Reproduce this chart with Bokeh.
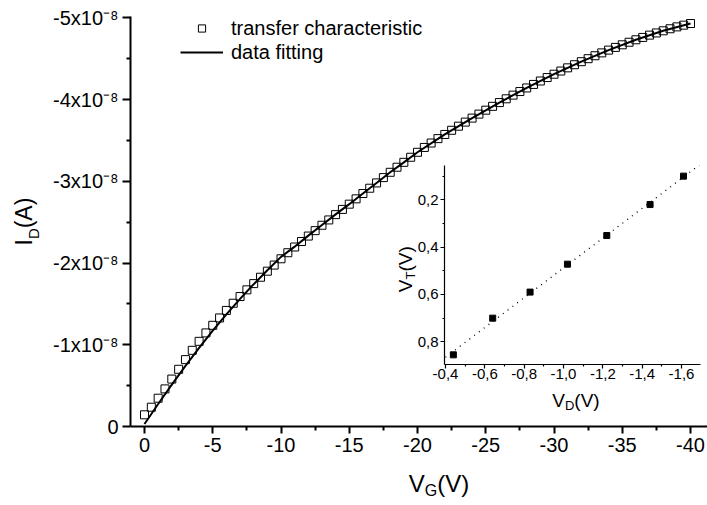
import numpy as np
from bokeh.plotting import figure
from bokeh.models import (Range1d, FixedTicker, CustomJSTickFormatter, Label,
                          Legend, LegendItem)
from bokeh.embed import file_html
from bokeh.resources import INLINE

FONT = "Liberation Sans"

# ---------------- data ----------------
# gate voltage (V) of the measured transfer characteristic
vg_meas = [0, -0.5, -1, -1.5, -2, -2.5, -3, -3.5, -4, -4.5, -5, -5.5, -6, -6.5, -7, -7.5,
           -8, -8.5, -9, -9.5, -10, -10.5, -11, -11.5, -12, -12.5, -13, -13.5, -14, -14.5,
           -15, -15.5, -16, -16.5, -17, -17.5, -18, -18.5, -19, -19.5, -20, -20.5, -21,
           -21.5, -22, -22.5, -23, -23.5, -24, -24.5, -25, -25.5, -26, -26.5, -27, -27.5,
           -28, -28.5, -29, -29.5, -30, -30.5, -31, -31.5, -32, -32.5, -33, -33.5, -34,
           -34.5, -35, -35.5, -36, -36.5, -37, -37.5, -38, -38.5, -39, -39.5, -40]
# drain current in units of 1e-8 A
id_meas_e8 = [-0.143, -0.236, -0.346, -0.460, -0.580, -0.700, -0.818, -0.932, -1.042,
              -1.145, -1.238, -1.328, -1.420, -1.508, -1.590, -1.672, -1.748, -1.826,
              -1.900, -1.975, -2.052, -2.126, -2.196, -2.263, -2.330, -2.396, -2.462,
              -2.527, -2.592, -2.656, -2.720, -2.785, -2.850, -2.915, -2.980, -3.045,
              -3.110, -3.172, -3.232, -3.294, -3.355, -3.414, -3.468, -3.522, -3.573,
              -3.624, -3.674, -3.724, -3.773, -3.822, -3.870, -3.917, -3.963, -4.009,
              -4.054, -4.098, -4.142, -4.185, -4.227, -4.269, -4.310, -4.349, -4.388,
              -4.426, -4.463, -4.500, -4.536, -4.571, -4.605, -4.638, -4.670, -4.701,
              -4.731, -4.760, -4.788, -4.815, -4.841, -4.866, -4.889, -4.910, -4.930]

# fitted curve
vg_fit = [0, -1, -2, -3, -4, -5, -6, -7, -8, -9, -10, -11, -12, -13, -14, -15, -16, -17,
          -18, -19, -20, -22, -24, -26, -28, -30, -32, -34, -36, -38, -40]
id_fit_e8 = [-0.03, -0.275, -0.512, -0.741, -0.962, -1.174, -1.372, -1.561, -1.741,
             -1.912, -2.075, -2.200, -2.335, -2.465, -2.595, -2.720, -2.850, -2.980,
             -3.110, -3.232, -3.355, -3.573, -3.773, -3.963, -4.142, -4.310, -4.463,
             -4.605, -4.731, -4.841, -4.930]

# inset: threshold voltage vs drain voltage
vd_inset = [-0.44, -0.64, -0.83, -1.02, -1.22, -1.44, -1.61]
vt_inset = [0.855, 0.700, 0.590, 0.472, 0.351, 0.220, 0.100]
vd_fit_span = [-0.40, -1.72]

# tick definitions
vg_ticks = [0, -5, -10, -15, -20, -25, -30, -35, -40]
vg_minor = [-2.5, -7.5, -12.5, -17.5, -22.5, -27.5, -32.5, -37.5]
id_ticks = [0, -1e-8, -2e-8, -3e-8, -4e-8, -5e-8]
id_minor = [-0.5e-8, -1.5e-8, -2.5e-8, -3.5e-8, -4.5e-8]
vd_ticks = [-0.4, -0.6, -0.8, -1.0, -1.2, -1.4, -1.6]
vd_minor = [-0.5, -0.7, -0.9, -1.1, -1.3, -1.5, -1.7]
vt_ticks = [0.2, 0.4, 0.6, 0.8]
vt_minor = [0.1, 0.3, 0.5, 0.7]

id_meas = np.array(id_meas_e8) * 1e-8
id_fit = np.array(id_fit_e8) * 1e-8

# ---------------- main figure ----------------
p = figure(width=707, height=505, output_backend="svg", toolbar_location=None,
           x_range=Range1d(1.026, -41.245), y_range=Range1d(0, -5.016e-8),
           min_border_left=130, min_border_right=0, min_border_top=16,
           min_border_bottom=79)
p.outline_line_color = None
p.grid.visible = False
p.background_fill_color = "white"
p.border_fill_color = "white"

sq = p.scatter(vg_meas, id_meas, marker="square", size=8, fill_color=None,
               line_color="black", line_width=1)
ln = p.line(vg_fit, id_fit, line_color="black", line_width=2)

for ax in (p.xaxis[0], p.yaxis[0]):
    ax.axis_line_width = 2
    ax.axis_line_color = "black"
    ax.major_tick_line_width = 2
    ax.minor_tick_line_width = 2
    ax.major_tick_in = 0
    ax.minor_tick_in = 0
    ax.major_label_text_font = FONT
    ax.major_label_text_font_size = "20px"
    ax.major_label_text_color = "black"

p.xaxis.ticker = FixedTicker(ticks=vg_ticks, minor_ticks=vg_minor)
p.xaxis.formatter = CustomJSTickFormatter(code="return String(Math.round(tick));")
p.xaxis.major_tick_out = 7
p.xaxis.minor_tick_out = 4
p.xaxis.major_label_standoff = 4

p.yaxis.ticker = FixedTicker(ticks=id_ticks, minor_ticks=id_minor)
p.yaxis.formatter = CustomJSTickFormatter(
    code="if (Math.abs(tick) < 1e-12) { return '0'; } return Math.round(tick*1e8) + 'x10\u207b\u2078';")
p.yaxis.major_tick_out = 8
p.yaxis.minor_tick_out = 4
p.yaxis.major_label_standoff = 4

legend = Legend(items=[LegendItem(label="transfer characteristic", renderers=[sq]),
                       LegendItem(label="data fitting", renderers=[ln])],
                location=(50, 362), padding=0, margin=0, border_line_color=None,
                background_fill_alpha=0, glyph_width=43, glyph_height=18,
                label_height=24, label_width=210, label_standoff=8, spacing=0,
                label_text_font=FONT, label_text_font_size="20px",
                label_text_color="black")
p.add_layout(legend, "center")

# ---------------- inset figure ----------------
q = figure(width=327, height=270, output_backend="svg", toolbar_location=None,
           x_range=Range1d(-0.395, -1.6964), y_range=Range1d(0.8958, 0.0551),
           min_border_left=64, min_border_right=7, min_border_top=15,
           min_border_bottom=56)
q.styles = {"position": "absolute", "left": "380px", "top": "150px"}
q.outline_line_color = None
q.grid.visible = False
q.background_fill_color = None
q.border_fill_color = None

coef = np.polyfit(vd_inset, vt_inset, 1)
span = np.array(vd_fit_span)
q.line(span, np.polyval(coef, span), line_color="black", line_width=1.3, line_dash="1 5")
q.scatter(vd_inset, vt_inset, marker="square", size=6, fill_color="black",
          line_color="black")

comma_fmt = CustomJSTickFormatter(code="return tick.toFixed(1).replace('.', ',');")
for ax in (q.xaxis[0], q.yaxis[0]):
    ax.axis_line_width = 1.2
    ax.axis_line_color = "black"
    ax.major_tick_line_width = 1.2
    ax.minor_tick_line_width = 1.2
    ax.major_tick_in = 0
    ax.minor_tick_in = 0
    ax.major_tick_out = 4
    ax.minor_tick_out = 2
    ax.major_label_text_font = FONT
    ax.major_label_text_font_size = "15px"
    ax.major_label_text_color = "black"
    ax.formatter = comma_fmt
q.xaxis.ticker = FixedTicker(ticks=vd_ticks, minor_ticks=vd_minor)
q.xaxis.major_label_standoff = 0
q.yaxis.ticker = FixedTicker(ticks=vt_ticks, minor_ticks=vt_minor)
q.yaxis.major_label_standoff = 2

# ---------------- transparent overlay for axis titles (pixel space) ----------------
t = figure(width=707, height=505, output_backend="svg", toolbar_location=None,
           x_range=Range1d(0, 707), y_range=Range1d(505, 0),
           min_border=0, x_axis_type=None, y_axis_type=None)
t.styles = {"position": "absolute", "left": "0px", "top": "0px"}
t.outline_line_color = None
t.grid.visible = False
t.background_fill_color = None
t.border_fill_color = None


def lab(text, px, py, size, angle=0.0):
    t.add_layout(Label(x=px, y=py, text=text, text_font=FONT, text_font_size=size,
                       text_color="black", text_align="left",
                       text_baseline="middle", angle=angle))


# main x title  V_G(V)
lab("V", 408.3, 482.5, "24px")
lab("G", 424.3, 490.0, "16px")
lab("(V)", 436.7, 482.5, "24px")
# main y title  I_D(A)
lab("I", 23.4, 245, "23px", np.pi / 2)
lab("D", 32.5, 238.6, "15px", np.pi / 2)
lab("(A)", 23.4, 227.8, "23px", np.pi / 2)
# inset x title V_D(V)
lab("V", 551.7, 399.5, "19px")
lab("D", 564.4, 405.0, "13px")
lab("(V)", 573.8, 399.5, "19px")
# inset y title V_T(V)
lab("V", 404.5, 291.7, "19px", np.pi / 2)
lab("T", 409.5, 279.0, "13px", np.pi / 2)
lab("(V)", 404.5, 271.1, "19px", np.pi / 2)

open("out.html", "w").write(file_html([p, q, t], INLINE))
